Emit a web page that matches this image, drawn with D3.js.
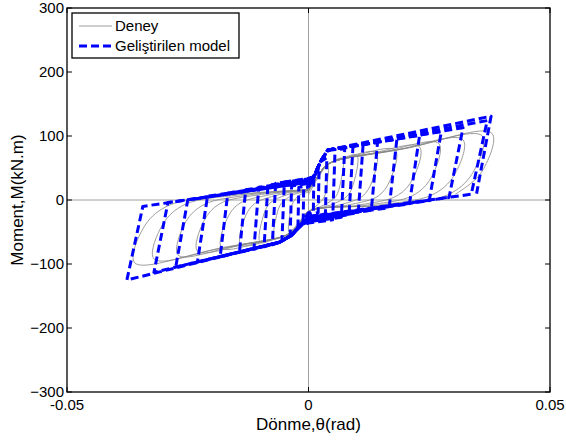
<!DOCTYPE html>
<html>
<head>
<meta charset="utf-8">
<script src="https://cdn.jsdelivr.net/npm/d3@7"></script>
<style>
  body { margin: 0; background: #fff; }
  svg { font-family: "Liberation Sans", Arial, sans-serif; }
</style>
</head>
<body>
<div id="chart"></div>
<script>
// === DATA ===
const xTicks = [-0.05, 0, 0.05];
const yTicks = [-300, -200, -100, 0, 100, 200, 300];
const legendLabels = ["Deney", "Geliştirilen model"];

// Geliştirilen model: cycles of [rotation, moment]
const modelCycles = [
  [[0,20],[0.0011,35],[0.001,-19],[0,-20],[-0.0011,-33],[-0.001,19],[0,20]],
  [[0,22],[0.001,34],[0.0022,50],[0.002,-20],[0,-22],[-0.0015,-38],[-0.0022,-46],[-0.002,20],[0,22]],
  [[0,26],[0.001,34],[0.0025,60],[0.0038,66],[0.0035,-22],[0,-26],[-0.0015,-38],[-0.0035,-55],[-0.0038,-57],[-0.0035,22],[0,26]],
  [[0,34],[0.001,36],[0.0025,60],[0.004,78],[0.0055,79],[0.005,-31],[0,-36],[-0.0015,-40],[-0.0035,-55],[-0.0055,-64],[-0.005,28],[0,34]],
  [[0,33],[0.001,36],[0.0025,60],[0.004,78],[0.0075,80],[0.0068,-27],[0,-34],[-0.0015,-39],[-0.0035,-55],[-0.006,-66],[-0.0075,-70],[-0.0068,26],[0,33]],
  [[0,32],[0.001,35],[0.0025,60],[0.004,78],[0.0092,83],[0.0084,-23],[0,-32],[-0.0015,-38],[-0.0035,-55],[-0.006,-66],[-0.0092,-73],[-0.0084,23],[0,32]],
  [[0,31],[0.001,35],[0.0025,60],[0.004,78],[0.0113,86],[0.0103,-20],[0,-31],[-0.0015,-38],[-0.0035,-55],[-0.006,-66],[-0.0113,-77],[-0.0103,20],[0,31]],
  [[0,30],[0.001,34],[0.0025,60],[0.004,78],[0.0143,90],[0.013,-16],[0,-30],[-0.0015,-38],[-0.0035,-55],[-0.006,-66],[-0.0143,-82],[-0.013,16],[0,30]],
  [[0,29],[0.001,34],[0.0025,60],[0.004,78],[0.0183,95],[0.0167,-12],[0,-29],[-0.0015,-38],[-0.0035,-55],[-0.006,-66],[-0.0183,-89],[-0.0167,11],[0,29]],
  [[0,29],[0.001,34],[0.0025,60],[0.004,78],[0.023,101],[0.0209,-6],[0,-28],[-0.0015,-38],[-0.0035,-55],[-0.006,-66],[-0.023,-97],[-0.0209,6],[0,29]],
  [[0,28],[0.001,34],[0.0025,60],[0.004,78],[0.0275,107],[0.025,-1],[0,-27],[-0.0015,-38],[-0.0035,-55],[-0.006,-66],[-0.0275,-105],[-0.025,0],[0,28]],
  [[0,28],[0.001,34],[0.0025,60],[0.004,78],[0.032,113],[0.0291,4],[0,-27],[-0.0015,-38],[-0.0035,-55],[-0.006,-66],[-0.032,-113],[-0.0291,-4],[0,28]],
  [[0,28],[0.001,34],[0.0025,60],[0.004,78],[0.037,124],[0.0337,9],[0,-26],[-0.0015,-38],[-0.0035,-55],[-0.006,-66],[-0.0376,-125],[-0.0343,-10],[0,28]],
  [[0,28],[0.001,34],[0.0025,60],[0.004,78],[0.0378,131],[0.0348,10]]
];

// Deney: measured loops of [rotation, moment]
const testCycles = [
  [[0,8],[0.002,35],[0.004,55],[0.0038,22],[0.0032,4],[0.0018,-8],[0,-18],[-0.002,-35],[-0.004,-50],[-0.0038,-20],[-0.0032,-4],[-0.0018,8],[0,12]],
  [[0,12],[0.002,38],[0.004,55],[0.007,65],[0.0066,26],[0.0056,5],[0.0032,-8],[0,-18],[-0.002,-38],[-0.004,-52],[-0.007,-60],[-0.0066,-24],[-0.0056,-5],[-0.0032,8],[0,14]],
  [[0,14],[0.002,38],[0.004,55],[0.007,65],[0.01,70],[0.0094,28],[0.008,6],[0.0045,-8],[0,-18],[-0.002,-38],[-0.004,-52],[-0.007,-61],[-0.01,-66],[-0.0094,-26],[-0.008,-5],[-0.0045,8],[0,15]],
  [[0,15],[0.002,38],[0.004,56],[0.008,67],[0.014,74],[0.0132,30],[0.0112,6],[0.0063,-8],[0,-18],[-0.002,-38],[-0.004,-53],[-0.008,-63],[-0.014,-70],[-0.0132,-28],[-0.0112,-6],[-0.0063,8],[0,16]],
  [[0,16],[0.002,38],[0.004,56],[0.01,70],[0.018,78],[0.0169,31],[0.0144,6],[0.0081,-8],[0,-18],[-0.002,-38],[-0.004,-53],[-0.01,-66],[-0.018,-75],[-0.0169,-30],[-0.0144,-6],[-0.0081,8],[0,16]],
  [[0,16],[0.002,38],[0.004,56],[0.0127,72],[0.023,83],[0.0216,33],[0.0184,7],[0.0104,-8],[0,-18],[-0.002,-38],[-0.004,-53],[-0.0127,-68],[-0.023,-80],[-0.0216,-32],[-0.0184,-6],[-0.0104,8],[0,16]],
  [[0,16],[0.002,38],[0.004,56],[0.0149,74],[0.027,88],[0.0254,35],[0.0216,7],[0.0122,-8],[0,-18],[-0.002,-38],[-0.004,-53],[-0.0149,-71],[-0.027,-86],[-0.0254,-34],[-0.0216,-7],[-0.0122,8],[0,16]],
  [[0,16],[0.002,38],[0.004,56],[0.0176,77],[0.032,94],[0.0301,38],[0.0256,8],[0.0144,-8],[0,-18],[-0.002,-38],[-0.004,-53],[-0.0176,-74],[-0.032,-92],[-0.0301,-37],[-0.0256,-7],[-0.0144,8],[0,16]],
  [[0,16],[0.002,38],[0.004,56],[0.0198,80],[0.036,100],[0.0338,40],[0.0288,8],[0.0162,-8],[0,-18],[-0.002,-38],[-0.004,-53],[-0.0198,-78],[-0.036,-98],[-0.0338,-39],[-0.0288,-8],[-0.0162,8],[0,16]],
  [[0,16],[0.002,38],[0.004,56],[0.0209,82],[0.038,104],[0.0357,42],[0.0304,9]]
];

// === LAYOUT ===
const W = 566, H = 441;
const m = { left: 67, right: 16, top: 8, bottom: 49 };
const iw = W - m.left - m.right, ih = H - m.top - m.bottom;

const svg = d3.select("#chart").append("svg")
    .attr("width", W)
    .attr("height", H);

const x = d3.scaleLinear().domain([-0.05, 0.05]).range([m.left, m.left + iw]);
const y = d3.scaleLinear().domain([-300, 300]).range([m.top + ih, m.top]);

const defs = svg.append("defs");
defs.append("clipPath").attr("id", "plot-clip")
  .append("rect")
    .attr("x", m.left).attr("y", m.top)
    .attr("width", iw).attr("height", ih);

// zero lines
svg.append("line")
    .attr("x1", x(0)).attr("x2", x(0))
    .attr("y1", m.top).attr("y2", m.top + ih)
    .attr("stroke", "#a0a0a0").attr("stroke-width", 1);
svg.append("line")
    .attr("x1", m.left).attr("x2", m.left + iw)
    .attr("y1", y(0)).attr("y2", y(0))
    .attr("stroke", "#a0a0a0").attr("stroke-width", 1);

const plot = svg.append("g").attr("clip-path", "url(#plot-clip)");

const smoothLine = d3.line()
    .x(d => x(d[0])).y(d => y(d[1]))
    .curve(d3.curveCatmullRom.alpha(0.5));
const straightLine = d3.line()
    .x(d => x(d[0])).y(d => y(d[1]));

// Deney (gray thin)
plot.selectAll(".test")
  .data(testCycles)
  .join("path")
    .attr("class", "test")
    .attr("d", smoothLine)
    .attr("fill", "none")
    .attr("stroke", "#858585")
    .attr("stroke-width", 0.8);

// Model (blue dashed)
plot.selectAll(".model")
  .data(modelCycles)
  .join("path")
    .attr("class", "model")
    .attr("d", straightLine)
    .attr("fill", "none")
    .attr("stroke", "#0000ff")
    .attr("stroke-width", 3)
    .attr("stroke-dasharray", "8,4")
    .attr("stroke-linejoin", "round");

// === AXES ===
const axisG = svg.append("g");
axisG.append("rect")
    .attr("x", m.left).attr("y", m.top)
    .attr("width", iw).attr("height", ih)
    .attr("fill", "none")
    .attr("stroke", "#000")
    .attr("stroke-width", 1.3);

const tickLen = 5;
yTicks.forEach(t => {
  axisG.append("line")
      .attr("x1", m.left).attr("x2", m.left + tickLen)
      .attr("y1", y(t)).attr("y2", y(t))
      .attr("stroke", "#000");
  axisG.append("line")
      .attr("x1", m.left + iw).attr("x2", m.left + iw - tickLen)
      .attr("y1", y(t)).attr("y2", y(t))
      .attr("stroke", "#000");
  axisG.append("text")
      .attr("x", m.left - 3)
      .attr("y", y(t) + 5)
      .attr("text-anchor", "end")
      .attr("font-size", "15px")
      .attr("fill", "#000")
      .text(d3.format("d")(t));
});
xTicks.forEach(t => {
  axisG.append("line")
      .attr("x1", x(t)).attr("x2", x(t))
      .attr("y1", m.top + ih).attr("y2", m.top + ih - tickLen)
      .attr("stroke", "#000");
  axisG.append("line")
      .attr("x1", x(t)).attr("x2", x(t))
      .attr("y1", m.top).attr("y2", m.top + tickLen)
      .attr("stroke", "#000");
  axisG.append("text")
      .attr("x", x(t))
      .attr("y", m.top + ih + 18)
      .attr("text-anchor", "middle")
      .attr("font-size", "15px")
      .attr("fill", "#000")
      .text(t === 0 ? "0" : String(t));
});

// axis labels
svg.append("text")
    .attr("x", x(0))
    .attr("y", H - 11)
    .attr("text-anchor", "middle")
    .attr("font-size", "17px")
    .text("Dönme,θ(rad)");
svg.append("text")
    .attr("transform", `translate(23,${y(0)}) rotate(-90)`)
    .attr("text-anchor", "middle")
    .attr("font-size", "17px")
    .text("Moment,M(kN.m)");

// === LEGEND ===
const lg = svg.append("g").attr("transform", "translate(72,13)");
lg.append("rect")
    .attr("width", 167).attr("height", 45)
    .attr("fill", "#fff")
    .attr("stroke", "#000")
    .attr("stroke-width", 1.3);
lg.append("line")
    .attr("x1", 7).attr("x2", 40)
    .attr("y1", 13).attr("y2", 13)
    .attr("stroke", "#858585").attr("stroke-width", 0.8);
lg.append("line")
    .attr("x1", 7).attr("x2", 40)
    .attr("y1", 33).attr("y2", 33)
    .attr("stroke", "#0000ff").attr("stroke-width", 3)
    .attr("stroke-dasharray", "8,4");
legendLabels.forEach((lab, i) => {
  lg.append("text")
      .attr("x", 43)
      .attr("y", 18 + i * 20)
      .attr("font-size", "15px")
      .text(lab);
});
</script>
</body>
</html>
